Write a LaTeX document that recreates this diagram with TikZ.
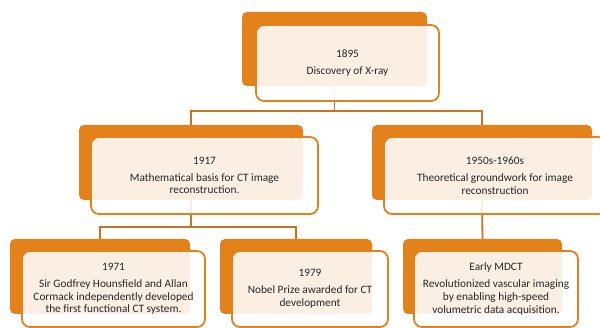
\documentclass[tikz,border=0pt]{standalone}
\usepackage{fontspec}
\setmainfont{Carlito}
\definecolor{orng}{HTML}{E3811B}
\definecolor{connc}{HTML}{C8731E}
\definecolor{txt}{HTML}{262626}
\tikzset{
  backbox/.style={rectangle, rounded corners=5pt, fill=orng, inner sep=0pt},
  frontbox/.style={rectangle, rounded corners=8pt, draw=orng, line width=1.8pt,
    fill=white, fill opacity=0.88, text opacity=1, inner sep=0pt, align=center,
    text=txt, font=\fontsize{11.3}{12.8}\selectfont},
  conn/.style={draw=connc, line width=1.8pt},
}
\begin{document}
\begin{tikzpicture}[x=1pt,y=-1pt]
\useasboundingbox (0,0) rectangle (600,328);
\clip (0,0) rectangle (600,328);
% back boxes
\node[backbox, minimum width=185pt, minimum height=74pt] (b1) at (334.5,49) {};
\node[backbox, minimum width=224pt, minimum height=75pt] (b2) at (191,162.5) {};
\node[backbox, minimum width=220pt, minimum height=75pt] (b3) at (482,162.5) {};
\node[backbox, minimum width=180pt, minimum height=75pt] (b4) at (100,276.5) {};
\node[backbox, minimum width=152pt, minimum height=75pt] (b5) at (296,276.5) {};
\node[backbox, minimum width=159pt, minimum height=75pt] (b6) at (482.5,276.5) {};
% connectors
\coordinate (j1) at (334.5,111);
\coordinate (j2) at (191,227);
\draw[conn] (b1.south) -- (j1) -| (b2.north);
\draw[conn] (j1) -| (b3.north);
\draw[conn] (b2.south) -- (j2) -| (b4.north);
\draw[conn] (j2) -| (b5.north);
\draw[conn] (b3.south) -- (b6.north);
% front boxes
\node[frontbox, minimum width=183pt, minimum height=76pt] (f1) at (347.5,63)
  {1895\\[4pt]Discovery of X-ray};
\node[frontbox, minimum width=227pt, minimum height=77pt] (f2) at (204.5,175.5)
  {1917\\[4pt]Mathematical basis for CT image\\reconstruction.};
\node[frontbox, minimum width=222pt, minimum height=77pt] (f3) at (495,175.5)
  {1950s-1960s\\[4pt]Theoretical groundwork for image\\reconstruction};
\node[frontbox, minimum width=183pt, minimum height=76pt] (f4) at (113.5,289)
  {1971\\[4pt]Sir Godfrey Hounsfield and Allan\\Cormack independently developed\\the first functional CT system.};
\node[frontbox, minimum width=156pt, minimum height=76pt] (f5) at (310,289)
  {1979\\[4pt]Nobel Prize awarded for CT\\development};
\node[frontbox, minimum width=164pt, minimum height=76pt] (f6) at (496,289)
  {Early MDCT\\[4pt]Revolutionized vascular imaging\\by enabling high-speed\\volumetric data acquisition.};
\end{tikzpicture}
\end{document}
